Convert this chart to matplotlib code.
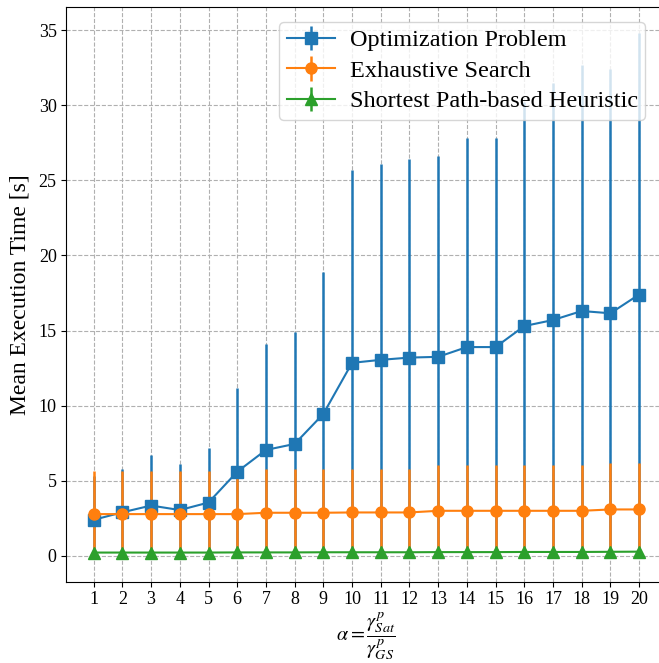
import numpy as np
import matplotlib
matplotlib.use("Agg")
import matplotlib.pyplot as plt

plt.rcParams["font.family"] = ["Liberation Serif", "DejaVu Serif"]
plt.rcParams["mathtext.fontset"] = "stix"

alpha = np.arange(1, 21)

opt_mean = [2.4, 2.9, 3.35, 3.05, 3.55, 5.6, 7.05, 7.45, 9.45, 12.85,
            13.05, 13.2, 13.25, 13.9, 13.9, 15.3, 15.7, 16.3, 16.15, 17.4]
opt_std = [2.9, 2.9, 3.35, 3.05, 3.6, 5.6, 7.05, 7.45, 9.45, 12.85,
           13.05, 13.2, 13.35, 13.9, 13.9, 14.9, 15.8, 16.4, 16.25, 17.4]

exh_mean = [2.78, 2.78, 2.78, 2.78, 2.78, 2.78, 2.87, 2.87, 2.87, 2.89,
            2.89, 2.89, 3.0, 3.0, 3.0, 3.0, 3.0, 3.0, 3.09, 3.09]
exh_std = [2.84, 2.84, 2.84, 2.84, 2.84, 2.84, 2.91, 2.91, 2.91, 2.91,
           2.91, 2.91, 3.02, 3.02, 3.02, 3.02, 3.02, 3.02, 3.06, 3.06]

sp_mean = [0.22, 0.22, 0.22, 0.22, 0.22, 0.23, 0.23, 0.23, 0.24, 0.24,
           0.24, 0.24, 0.25, 0.25, 0.25, 0.26, 0.26, 0.26, 0.27, 0.28]
sp_std = [0.05] * 20

series = [
    ("Optimization Problem", opt_mean, opt_std, "#1f77b4", "s"),
    ("Exhaustive Search", exh_mean, exh_std, "#ff7f0e", "o"),
    ("Shortest Path-based Heuristic", sp_mean, sp_std, "#2ca02c", "^"),
]

fig = plt.figure(figsize=(6.59, 6.63), dpi=100)
ax = fig.add_axes([66.4 / 659, 81 / 663, 600 / 659, 575 / 663])

for label, mean, std, color, marker in series:
    mean = np.asarray(mean)
    std = np.asarray(std)
    lower = np.minimum(std, mean)
    ax.errorbar(alpha, mean, yerr=[lower, std], color=color, marker=marker,
                markersize=8, linewidth=1.5, elinewidth=1.8, label=label)

ax.set_xticks(alpha)
ax.set_xlim(0.05, 20.95)
ax.spines["right"].set_visible(False)
ax.tick_params(axis="x", labelsize=13, pad=3)
ax.tick_params(axis="y", labelsize=13)
ax.grid(True, linestyle="--", color="#b0b0b0", linewidth=0.8)
ax.set_axisbelow(True)

ax.set_ylabel("Mean Execution Time [s]", fontsize=17, labelpad=6)
ax.set_xlabel(r"$\alpha = \dfrac{\gamma^{p}_{Sat}}{\gamma^{p}_{GS}}$",
              fontsize=14.5)
# place the label just under the tick labels so the fraction fits
ax.xaxis.set_label_coords(0.5, -0.05)

ax.legend(loc="upper right", bbox_to_anchor=(0.985, 0.995), fontsize=17.5,
          handlelength=2.0, borderpad=0.3, labelspacing=0.35,
          handletextpad=0.6)

fig.savefig("out.png", dpi=100)
